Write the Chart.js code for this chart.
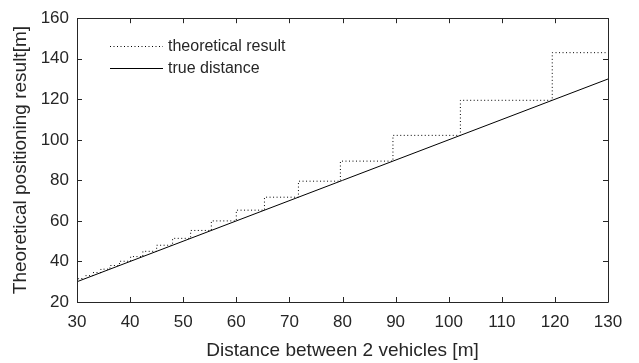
<!DOCTYPE html>
<html>
<head>
<meta charset="utf-8">
<script src="https://cdn.jsdelivr.net/npm/chart.js@4.4.1/dist/chart.umd.min.js"></script>
<style>
  html, body { margin: 0; padding: 0; background: #fff; }
  #wrap { width: 639px; height: 363px; position: relative; }
</style>
</head>
<body>
<div id="wrap"><canvas id="positioning-chart"></canvas></div>
<script>
// Axis ticks
const xTicks = [30, 40, 50, 60, 70, 80, 90, 100, 110, 120, 130];
const yTicks = [20, 40, 60, 80, 100, 120, 140, 160];

// Theoretical result: staircase (x where each level starts, level value)
const stepX = [30, 30.3, 31.6, 33, 34.5, 36.2, 38, 40.1, 42.4, 45, 48, 51.4, 55.3, 60, 65.3, 71.7, 79.6, 89.5, 102.2, 119.5, 130];
const stepY = [30.3, 31.6, 33, 34.5, 36.2, 38, 40.1, 42.4, 45, 48, 51.4, 55.3, 60, 65.3, 71.7, 79.6, 89.5, 102.2, 119.5, 143, 143];

// True distance
const trueX = [30, 130];
const trueY = [30, 130];

const axisColor = '#262626';
const fontFamily = '"Liberation Sans", Arial, Helvetica, sans-serif';

// Cadre + graduations intérieures sur les quatre côtés (style MATLAB)
const boxTicksPlugin = {
    id: 'boxTicks',
    afterDraw(chart) {
        const { ctx, chartArea: a, scales } = chart;
        const len = 5;
        ctx.save();
        ctx.strokeStyle = axisColor;
        ctx.lineWidth = 1;
        ctx.beginPath();
        ctx.rect(Math.round(a.left) + 0.5, Math.round(a.top) + 0.5,
                 Math.round(a.right - a.left), Math.round(a.bottom - a.top));
        ctx.stroke();
        ctx.beginPath();
        xTicks.forEach(v => {
            const px = Math.round(scales.x.getPixelForValue(v)) + 0.5;
            ctx.moveTo(px, a.bottom); ctx.lineTo(px, a.bottom - len);
            ctx.moveTo(px, a.top); ctx.lineTo(px, a.top + len);
        });
        yTicks.forEach(v => {
            const py = Math.round(scales.y.getPixelForValue(v)) + 0.5;
            ctx.moveTo(a.left, py); ctx.lineTo(a.left + len, py);
            ctx.moveTo(a.right, py); ctx.lineTo(a.right - len, py);
        });
        ctx.stroke();
        ctx.restore();
    }
};

// Légende sans cadre en haut à gauche
const legendPlugin = {
    id: 'boxLegend',
    afterDraw(chart) {
        const { ctx, chartArea: a } = chart;
        const x0 = a.left + 33, x1 = a.left + 86, tx = a.left + 91;
        ctx.save();
        ctx.font = '16px ' + fontFamily;
        ctx.fillStyle = axisColor;
        ctx.textBaseline = 'middle';
        chart.data.datasets.forEach((ds, i) => {
            const y = Math.round(a.top + 28 + i * 22) + 0.5;
            ctx.strokeStyle = ds.borderColor;
            ctx.lineWidth = ds.borderWidth;
            ctx.setLineDash(ds.borderDash || []);
            ctx.beginPath();
            ctx.moveTo(x0, y); ctx.lineTo(x1, y);
            ctx.stroke();
            ctx.setLineDash([]);
            ctx.fillText(ds.label, tx, y);
        });
        ctx.restore();
    }
};

const ctx = document.getElementById('positioning-chart').getContext('2d');

new Chart(ctx, {
    type: 'line',
    data: {
        datasets: [{
            label: 'theoretical result',
            data: stepX.map((x, i) => ({ x: x, y: stepY[i] })),
            borderColor: '#000000',
            borderWidth: 1,
            borderDash: [1, 2.5],
            stepped: 'before',
            pointRadius: 0,
            fill: false
        }, {
            label: 'true distance',
            data: trueX.map((x, i) => ({ x: x, y: trueY[i] })),
            borderColor: '#000000',
            borderWidth: 1,
            pointRadius: 0,
            fill: false
        }]
    },
    options: {
        responsive: true,
        maintainAspectRatio: false,
        animation: false,
        layout: { padding: { left: 0, right: 31, top: 12, bottom: 0 } },
        plugins: {
            legend: { display: false },
            tooltip: { enabled: false }
        },
        scales: {
            x: {
                type: 'linear',
                min: 30,
                max: 130,
                afterBuildTicks: s => { s.ticks = xTicks.map(v => ({ value: v })); },
                afterFit: s => { s.height = 61; },
                grid: { display: false, drawTicks: false },
                border: { display: false },
                ticks: { color: axisColor, padding: 10, maxRotation: 0, autoSkip: false,
                         font: { family: fontFamily, size: 17 } },
                title: { display: true, text: 'Distance between 2 vehicles [m]', color: axisColor,
                         padding: { top: 2, bottom: 1 },
                         font: { family: fontFamily, size: 19 } }
            },
            y: {
                type: 'linear',
                min: 20,
                max: 160,
                afterBuildTicks: s => { s.ticks = yTicks.map(v => ({ value: v })); },
                afterFit: s => { s.width = 77; },
                grid: { display: false, drawTicks: false },
                border: { display: false },
                ticks: { color: axisColor, padding: 8, autoSkip: false,
                         font: { family: fontFamily, size: 17 } },
                title: { display: true, text: 'Theoretical positioning result[m]', color: axisColor,
                         padding: { top: 9, bottom: 0 },
                         font: { family: fontFamily, size: 19 } }
            }
        }
    },
    plugins: [boxTicksPlugin, legendPlugin]
});
</script>
</body>
</html>
